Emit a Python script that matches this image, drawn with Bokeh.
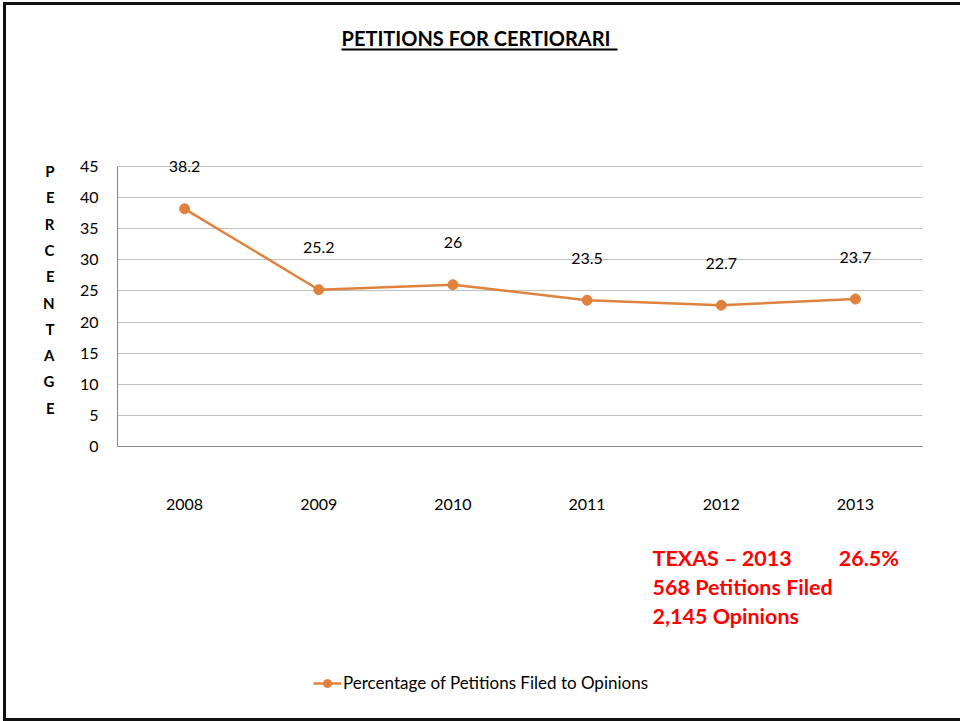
from bokeh.plotting import figure
from bokeh.models import (ColumnDataSource, Range1d, FixedTicker, LabelSet,
                          Legend, LegendItem, Title, LinearAxis)
from bokeh.core.properties import value
from bokeh.embed import file_html
from bokeh.resources import INLINE

years = ["2008", "2009", "2010", "2011", "2012", "2013"]
values = [38.2, 25.2, 26.0, 23.5, 22.7, 23.7]
value_labels = ["38.2", "25.2", "26", "23.5", "22.7", "23.7"]
y_ticks = [0, 5, 10, 15, 20, 25, 30, 35, 40, 45]
title_text = "PETITIONS FOR CERTIORARI"
y_title = "PERCENTAGE"
series_name = "Percentage of Petitions Filed to Opinions"
note_lines = ["TEXAS \u2013 2013" + "\u00a0" * 9 + "26.5%",
              "568 Petitions Filed", "2,145 Opinions"]

FONT = "Lato"
LINE_COLOR = "#E0823D"

# page geometry (the canvas sits inside a 3px border, offset by 6px / 5px)
OX, OY = 6, 5
CW, CH = 954, 713
FL, FR, FT, FB = 117, 922, 146, 446          # frame edges in page pixels
FRAME_W, FRAME_H = FR - FL, FB - FT

x_pos = list(range(len(years)))              # category slots on a linear axis
p = figure(width=CW, height=CH, frame_width=FRAME_W, frame_height=FRAME_H,
           x_range=Range1d(-0.5, len(years) - 0.5),
           y_range=Range1d(0, 45 * FRAME_H / 280),
           output_backend="svg", toolbar_location=None,
           min_border_left=FL - OX, min_border_right=OX + CW - FR,
           min_border_top=FT - OY, min_border_bottom=OY + CH - FB)
p.styles = {"margin-left": "3px", "margin-top": "2px",
            "border-left": "3px solid #111", "border-top": "3px solid #111",
            "border-bottom": "3px solid #111"}
p.title.text = ""
p.outline_line_color = None
p.background_fill_color = "white"
p.border_fill_color = "white"

# pixel-unit helper ranges for guides outside the plotting area
p.extra_y_ranges = {"px_y": Range1d(0, FRAME_H)}
p.extra_x_ranges = {"px_x": Range1d(0, FRAME_W)}

# ---- y axis
p.yaxis.ticker = FixedTicker(ticks=y_ticks)
p.yaxis.bounds = (0, 45)
p.yaxis.axis_line_color = "#868686"
p.yaxis.major_tick_line_color = None
p.yaxis.major_tick_out = 0
p.yaxis.major_tick_in = 0
p.yaxis.minor_tick_line_color = None
p.yaxis.major_label_text_font = FONT
p.yaxis.major_label_text_font_size = "16px"
p.yaxis.major_label_text_color = "#000000"
p.yaxis.major_label_standoff = 19

# vertical stacked letters of the y title (outer axis, pixel units)
letter_pos = [int(round(FB - 170 - 26.3 * i)) for i in range(len(y_title))]
lax = LinearAxis(y_range_name="px_y", ticker=FixedTicker(ticks=letter_pos),
                 major_label_overrides={pos: ch for pos, ch in zip(letter_pos, y_title)},
                 axis_line_color=None, major_tick_line_color=None,
                 minor_tick_line_color=None, major_tick_out=0, major_tick_in=0,
                 major_label_standoff=22, major_label_text_font=FONT,
                 major_label_text_font_style="bold",
                 major_label_text_font_size="15px",
                 major_label_text_color="#000000")
p.add_layout(lax, "left")

# ---- x axis (years)
p.xaxis.ticker = FixedTicker(ticks=x_pos)
p.xaxis.major_label_overrides = {i: yr for i, yr in zip(x_pos, years)}
p.xaxis.axis_line_color = "#868686"
p.xaxis.major_tick_line_color = None
p.xaxis.major_tick_out = 0
p.xaxis.major_tick_in = 0
p.xaxis.minor_tick_line_color = None
p.xaxis.major_label_text_font = FONT
p.xaxis.major_label_text_font_size = "16px"
p.xaxis.major_label_text_color = "#000000"
p.xaxis.major_label_standoff = 52

p.xgrid.grid_line_color = None
p.ygrid.ticker = FixedTicker(ticks=y_ticks)
p.ygrid.grid_line_color = "#BFBFBF"
p.ygrid.grid_line_width = 1

# ---- data
src = ColumnDataSource(dict(x=x_pos, y=values, lab=value_labels))
r_line = p.line("x", "y", source=src, line_color=LINE_COLOR, line_width=2.5)
r_pts = p.scatter("x", "y", source=src, size=10, fill_color=LINE_COLOR,
                  line_color=LINE_COLOR)

labels = LabelSet(x="x", y="y", text="lab", source=src, y_offset=42,
                  text_align="center", text_baseline="middle",
                  text_font=value(FONT), text_font_size=value("16px"),
                  text_color="#000000")
p.add_layout(labels)

# ---- title (above): spacer, underline (axis line), title text
p.add_layout(Title(text="\u00a0", text_font_size="1px", standoff=94), "above")
uline = LinearAxis(x_range_name="px_x", ticker=FixedTicker(ticks=[]),
                   bounds=(341 - FL, 617 - FL), axis_line_color="#000000",
                   axis_line_width=2, major_tick_line_color=None,
                   minor_tick_line_color=None, major_tick_out=0, major_tick_in=0,
                   major_label_text_font_size="0px")
p.add_layout(uline, "above")
p.add_layout(Title(text=title_text, align="left", offset=341 - FL, standoff=0,
                   text_font=FONT, text_font_style="bold", text_font_size="20px",
                   text_color="#000000"), "above")

# ---- red note lines (below)
p.add_layout(Title(text="\u00a0", text_font_size="1px", standoff=27), "below")
for line in note_lines:
    p.add_layout(Title(text=line, align="left", offset=652 - FL, standoff=1,
                       text_font=FONT, text_font_style="bold", text_font_size="21.5px",
                       text_color="#FF0000"), "below")

# ---- legend (placed from the right-hand side panel, pixel offsets)
legend = Legend(items=[LegendItem(label=series_name, renderers=[r_line, r_pts])],
                location=(313 - FR, FB - 673 - 20), orientation="horizontal",
                glyph_width=28, glyph_height=20, label_standoff=2,
                padding=0, margin=0, border_line_color=None,
                background_fill_color=None,
                label_text_font=FONT, label_text_font_size="17px",
                label_text_color="#000000")
p.add_layout(legend, "right")

open("out.html", "w").write(file_html(p, INLINE))
